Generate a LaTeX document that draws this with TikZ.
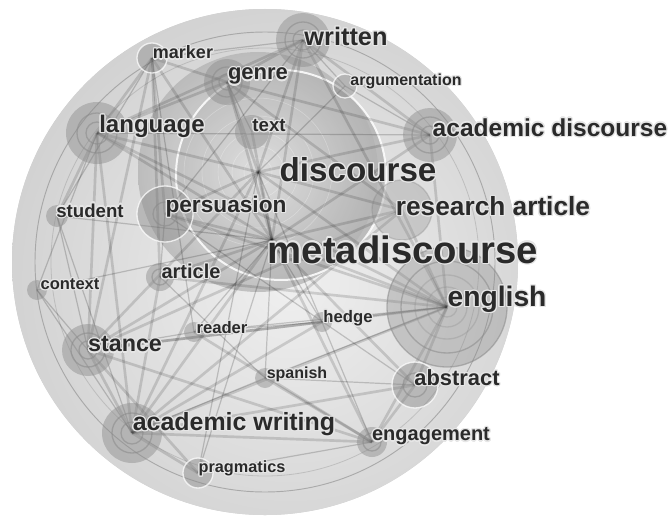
\documentclass[tikz,border=0pt]{standalone}
\usepackage{fontspec}
\setmainfont{Liberation Sans}
\usepackage{tikz}
\usepackage[copies]{contour}
\contourlength{0.9pt}
\contournumber{16}

\definecolor{diskgray}{HTML}{CDCDCD}
\definecolor{coregray}{HTML}{B2B2B2}
\definecolor{nodegray}{HTML}{8A8A8A}
\definecolor{labelgray}{HTML}{2A2A2A}
\definecolor{halo}{HTML}{E6E6E6}

\newcommand{\kwsize}[1]{\fontsize{#1}{#1}\selectfont\bfseries}
\newcommand{\kw}[1]{\contour{halo}{#1}}

\tikzset{
  lbl/.style={text=labelgray, inner sep=0.75pt},
  kw/.style={fill=nodegray, fill opacity=0.45},
  kwring/.style={draw=nodegray, draw opacity=0.55, line width=1pt},
  kwrim/.style={draw=white, draw opacity=0.75, line width=1pt},
  lnk/.style={draw=black, draw opacity=0.14, line width=2pt},
  lnkthin/.style={draw=black, draw opacity=0.18, line width=0.9pt},
}

\begin{document}
\begin{tikzpicture}[x=0.75pt,y=0.75pt,yscale=-1,xscale=1]
\useasboundingbox (0,0) rectangle (670,517);
\fill[white] (0,0) rectangle (670,517);

% keyword positions
\coordinate (written) at (303,40);
\coordinate (marker) at (152,58);
\coordinate (genre) at (227,82);
\coordinate (argu) at (345,86);
\coordinate (lang) at (97,133);
\coordinate (text) at (252,132);
\coordinate (acdisc) at (430,135);
\coordinate (disc) at (258,172);
\coordinate (student) at (57,216);
\coordinate (pers) at (165,214);
\coordinate (resart) at (402,210);
\coordinate (meta) at (272,240);
\coordinate (context) at (37,290);
\coordinate (article) at (160,277);
\coordinate (english) at (447,307);
\coordinate (reader) at (194,332);
\coordinate (hedge) at (322,322);
\coordinate (stance) at (88,350);
\coordinate (spanish) at (265,378);
\coordinate (abstract) at (415,385);
\coordinate (acwrit) at (132,433);
\coordinate (engage) at (372,442);
\coordinate (prag) at (198,473);
\coordinate (hub) at (265,262);
\coordinate (core) at (281,175);

%Shape: Circle (outer disk)
\fill[diskgray] (hub) circle (253);
\begin{scope}
\clip (hub) circle (253);
\shade[inner color=white!94!black, outer color=diskgray] (290,280) circle (330);
\end{scope}
\draw[nodegray, draw opacity=0.6, line width=0.7pt] (hub) circle (230);
\draw[nodegray, draw opacity=0.35, line width=0.6pt] (hub) circle (214);

%Shape: Circle (discourse cluster)
\fill[coregray, fill opacity=0.8] (core) circle (105);
\shade[inner color=white!92!black, outer color=coregray, opacity=0.75] (disc) circle (120);
\draw[white, draw opacity=0.85, line width=1.5pt] (core) circle (105);
\draw[white, draw opacity=0.3] (disc) circle (14) (disc) circle (26) (disc) circle (40) (disc) circle (56) (disc) circle (74);

% Links
\draw[lnk] (meta) -- (english); \draw[lnk] (meta) -- (disc); \draw[lnk] (meta) -- (acwrit);
\draw[lnk] (meta) -- (stance); \draw[lnk] (meta) -- (lang); \draw[lnk] (meta) -- (pers);
\draw[lnk] (meta) -- (abstract); \draw[lnk] (meta) -- (engage); \draw[lnkthin] (meta) -- (hedge);
\draw[lnkthin] (meta) -- (reader); \draw[lnkthin] (meta) -- (spanish); \draw[lnk] (meta) -- (article);
\draw[lnkthin] (meta) -- (context); \draw[lnkthin] (meta) -- (student); \draw[lnk] (meta) -- (marker);
\draw[lnk] (meta) -- (genre); \draw[lnk] (meta) -- (written); \draw[lnk] (meta) -- (resart);
\draw[lnk] (meta) -- (acdisc); \draw[lnkthin] (meta) -- (prag); \draw[lnk] (meta) -- (text);
\draw[lnk] (disc) -- (lang); \draw[lnk] (disc) -- (genre); \draw[lnk] (disc) -- (written);
\draw[lnk] (disc) -- (english); \draw[lnk] (disc) -- (acwrit); \draw[lnk] (disc) -- (stance);
\draw[lnk] (disc) -- (pers); \draw[lnkthin] (disc) -- (argu); \draw[lnkthin] (disc) -- (prag);
\draw[lnk] (disc) -- (acdisc); \draw[lnk] (disc) -- (resart); \draw[lnkthin] (disc) -- (hedge);
\draw[lnk] (marker) -- (lang); \draw[lnkthin] (marker) -- (student); \draw[lnk] (marker) -- (article);
\draw[lnk] (marker) -- (genre); \draw[lnkthin] (marker) -- (written); \draw[lnk] (marker) -- (pers);
\draw[lnk] (marker) -- (stance); \draw[lnkthin] (marker) -- (reader);
\draw[lnk] (lang) -- (student); \draw[lnk] (lang) -- (stance); \draw[lnk] (lang) -- (acwrit);
\draw[lnk] (lang) -- (genre); \draw[lnk] (lang) -- (written); \draw[lnkthin] (lang) -- (context);
\draw[lnk] (lang) -- (english); \draw[lnkthin] (lang) -- (acdisc);
\draw[lnk] (stance) -- (acwrit); \draw[lnk] (stance) -- (english); \draw[lnk] (stance) -- (engage);
\draw[lnkthin] (stance) -- (reader); \draw[lnkthin] (stance) -- (context); \draw[lnk] (stance) -- (prag);
\draw[lnk] (stance) -- (hedge); \draw[lnk] (stance) -- (resart);
\draw[lnk] (acwrit) -- (english); \draw[lnk] (acwrit) -- (engage); \draw[lnk] (acwrit) -- (prag);
\draw[lnkthin] (acwrit) -- (spanish); \draw[lnk] (acwrit) -- (abstract); \draw[lnk] (acwrit) -- (article);
\draw[lnk] (acwrit) -- (hedge); \draw[lnkthin] (acwrit) -- (student); \draw[lnk] (acwrit) -- (resart);
\draw[lnk] (english) -- (abstract); \draw[lnk] (english) -- (engage); \draw[lnk] (english) -- (resart);
\draw[lnkthin] (english) -- (hedge); \draw[lnk] (english) -- (acdisc); \draw[lnkthin] (english) -- (spanish);
\draw[lnk] (english) -- (article); \draw[lnkthin] (english) -- (reader);
\draw[lnk] (written) -- (acdisc); \draw[lnkthin] (written) -- (argu); \draw[lnk] (written) -- (genre);
\draw[lnk] (written) -- (english); \draw[lnkthin] (written) -- (pers);
\draw[lnk] (genre) -- (resart); \draw[lnk] (genre) -- (acdisc); \draw[lnkthin] (genre) -- (text);
\draw[lnk] (engage) -- (abstract); \draw[lnkthin] (engage) -- (prag); \draw[lnkthin] (engage) -- (hedge);
\draw[lnk] (engage) -- (spanish); \draw[lnk] (engage) -- (reader);
\draw[lnkthin] (context) -- (acwrit); \draw[lnkthin] (student) -- (stance); \draw[lnkthin] (argu) -- (acdisc);
\draw[lnkthin] (pers) -- (article); \draw[lnk] (pers) -- (english); \draw[lnkthin] (pers) -- (abstract);
\draw[lnkthin] (article) -- (spanish); \draw[lnkthin] (reader) -- (hedge); \draw[lnkthin] (abstract) -- (spanish);

%Shape: Circle (keyword nodes)
\fill[kw] (written) circle (27); \draw[kwring] (written) circle (18) (written) circle (10);
\fill[kw] (marker) circle (15); \draw[kwrim] (marker) circle (15);
\fill[kw] (genre) circle (23); \draw[kwring] (genre) circle (15) (genre) circle (8);
\fill[kw] (argu) circle (12); \draw[kwrim] (argu) circle (12);
\fill[kw] (lang) circle (31); \draw[kwring] (lang) circle (20) (lang) circle (11);
\fill[kw] (text) circle (17);
\fill[kw] (acdisc) circle (27); \draw[kwring] (acdisc) circle (18) (acdisc) circle (9);
\fill[kw] (student) circle (11);
\fill[kw] (pers) circle (28); \draw[kwrim] (pers) circle (28); \draw[kwring] (pers) circle (12);
\fill[kw, fill opacity=0.3] (resart) circle (30); \draw[kwring, draw opacity=0.35] (resart) circle (30);
\fill[kw] (context) circle (10);
\fill[kw] (article) circle (14); \draw[kwring] (article) circle (8);
\fill[kw, fill opacity=0.35] (english) circle (60); \draw[kwring] (english) circle (60) (english) circle (46);
\draw[kwring, draw opacity=0.3] (english) circle (32) (english) circle (20) (english) circle (10);
\fill[kw] (reader) circle (10);
\fill[kw] (hedge) circle (10);
\fill[kw] (stance) circle (26); \draw[kwring] (stance) circle (17) (stance) circle (9);
\fill[kw] (spanish) circle (10);
\fill[kw] (abstract) circle (23); \draw[kwrim] (abstract) circle (23); \draw[kwring] (abstract) circle (12);
\fill[kw] (acwrit) circle (30); \draw[kwring] (acwrit) circle (20) (acwrit) circle (11);
\fill[kw] (engage) circle (15); \draw[kwring] (engage) circle (9);
\fill[kw] (prag) circle (15); \draw[kwrim] (prag) circle (15);

% Text Node
\node[lbl, font=\kwsize{19}] (written-t) at (346,37) {\kw{written}};
\node[lbl, font=\kwsize{13.5}] (marker-t) at (183,53) {\kw{marker}};
\node[lbl, font=\kwsize{16.5}] (genre-t) at (258,77) {\kw{genre}};
\node[lbl, font=\kwsize{12}] (argu-t) at (406,82) {\kw{argumentation}};
\node[lbl, font=\kwsize{18}] (lang-t) at (152,127) {\kw{language}};
\node[lbl, font=\kwsize{14}] (text-t) at (269,126) {\kw{text}};
\node[lbl, font=\kwsize{18.4}] (acdisc-t) at (550,128) {\kw{academic discourse}};
\node[lbl, font=\kwsize{24.9}] (disc-t) at (358,170) {\kw{discourse}};
\node[lbl, font=\kwsize{14}] (student-t) at (90,211) {\kw{student}};
\node[lbl, font=\kwsize{17}] (pers-t) at (226,207) {\kw{persuasion}};
\node[lbl, font=\kwsize{19.7}] (resart-t) at (493,207) {\kw{research article}};
\node[lbl, font=\kwsize{28.7}] (meta-t) at (403,250) {\kw{metadiscourse}};
\node[lbl, font=\kwsize{12.4}] (context-t) at (70,285) {\kw{context}};
\node[lbl, font=\kwsize{15}] (article-t) at (191,272) {\kw{article}};
\node[lbl, font=\kwsize{21.2}] (english-t) at (497,300) {\kw{english}};
\node[lbl, font=\kwsize{12.5}] (reader-t) at (222,328) {\kw{reader}};
\node[lbl, font=\kwsize{12.5}] (hedge-t) at (348,319) {\kw{hedge}};
\node[lbl, font=\kwsize{17.5}] (stance-t) at (125,345) {\kw{stance}};
\node[lbl, font=\kwsize{12}] (spanish-t) at (297,375) {\kw{spanish}};
\node[lbl, font=\kwsize{16.4}] (abstract-t) at (457,378) {\kw{abstract}};
\node[lbl, font=\kwsize{18.7}] (acwrit-t) at (234,425) {\kw{academic writing}};
\node[lbl, font=\kwsize{15}] (engage-t) at (431,437) {\kw{engagement}};
\node[lbl, font=\kwsize{12.2}] (prag-t) at (242,469) {\kw{pragmatics}};

\end{tikzpicture}
\end{document}
